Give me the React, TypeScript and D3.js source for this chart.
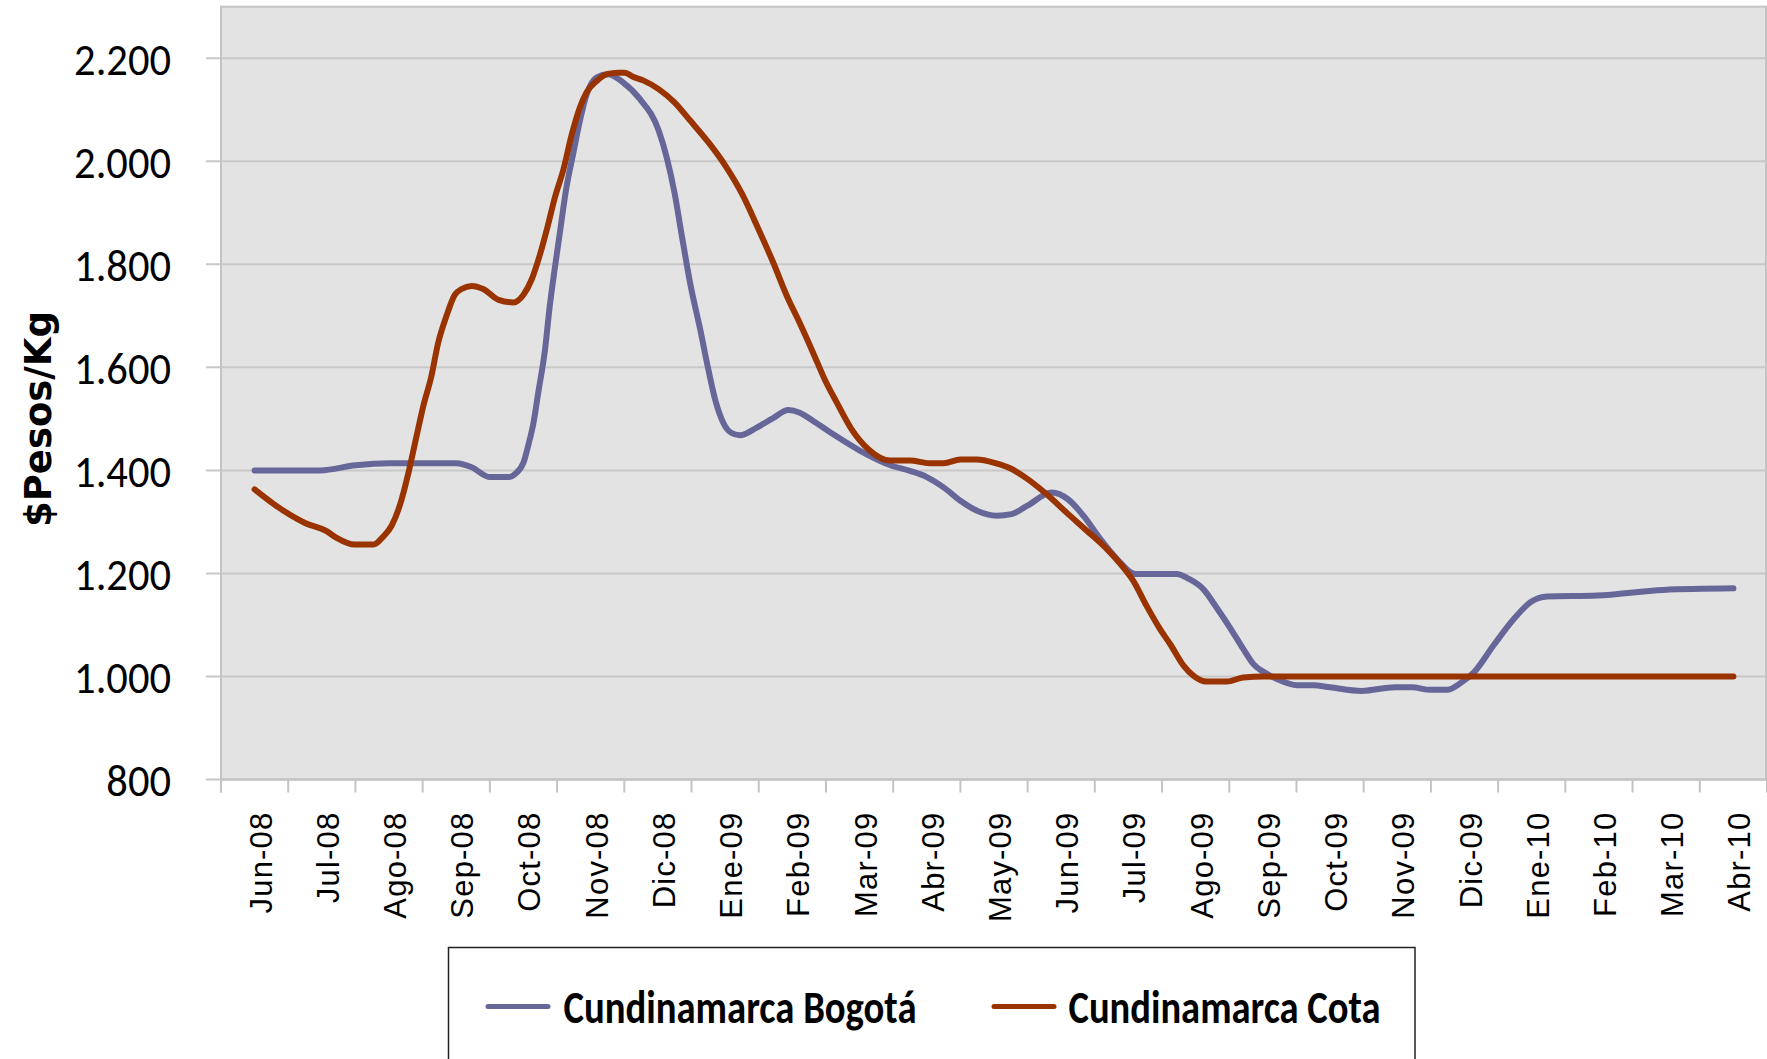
import React, { useEffect } from "react";
import * as d3 from "d3";

const months = ["Jun-08","Jul-08","Ago-08","Sep-08","Oct-08","Nov-08","Dic-08","Ene-09","Feb-09","Mar-09","Abr-09","May-09","Jun-09","Jul-09","Ago-09","Sep-09","Oct-09","Nov-09","Dic-09","Ene-10","Feb-10","Mar-10","Abr-10"];

const yTicks = [800, 1000, 1200, 1400, 1600, 1800, 2000, 2200];
const yTickLabels = ["800", "1.000", "1.200", "1.400", "1.600", "1.800", "2.000", "2.200"];

// position along the month axis (0 = Jun-08) and price
const bogotaX = [0,0.98,1.5,2.0,3.0,3.23,3.5,3.77,3.9,4.0,4.07,4.15,4.22,4.32,4.39,4.47,4.54,4.64,4.74,4.84,4.94,5.09,5.26,5.48,5.73,6.01,6.13,6.25,6.35,6.48,6.63,6.75,6.85,6.97,7.09,7.22,7.47,7.72,7.94,8.11,8.31,8.61,9.01,9.46,9.75,10.0,10.25,10.5,10.74,11.04,11.26,11.49,11.86,12.10,12.33,12.58,12.83,13.10,13.72,13.89,14.11,14.31,14.51,14.71,14.86,15.06,15.26,15.5,15.75,16.0,16.47,16.97,17.22,17.49,17.74,17.96,18.14,18.43,18.73,18.98,19.23,19.97,20.96,22.0];
const bogotaY = [1400,1400,1410,1414,1414,1406,1387,1387,1396,1415,1448,1493,1551,1634,1718,1796,1860,1950,2015,2079,2130,2163,2169,2153,2121,2060,2008,1937,1860,1763,1673,1596,1538,1493,1473,1468,1483,1502,1517,1512,1496,1470,1438,1410,1399,1387,1367,1341,1322,1312,1315,1331,1357,1344,1312,1267,1228,1199,1199,1190,1170,1134,1095,1053,1024,1005,992,983,983,979,972,979,979,974,974,989,1008,1060,1111,1144,1155,1157,1168,1171];

const cotaX = [0,0.28,0.75,1.07,1.22,1.49,1.77,1.91,2.04,2.16,2.29,2.41,2.51,2.63,2.73,2.86,2.98,3.08,3.23,3.40,3.63,3.85,4.00,4.12,4.25,4.37,4.47,4.59,4.72,4.84,4.94,5.09,5.24,5.41,5.51,5.63,5.78,6.01,6.25,6.48,6.75,7.00,7.25,7.49,7.72,7.91,8.11,8.31,8.48,8.66,8.88,9.13,9.46,9.75,10.04,10.25,10.5,10.74,11.02,11.24,11.49,11.78,12.08,12.38,12.68,12.92,13.07,13.27,13.47,13.62,13.82,13.97,14.16,14.46,14.71,15.01,16,17,18,19,20,21,22];
const cotaY = [1363,1335,1298,1282,1269,1256,1256,1271,1293,1332,1396,1467,1525,1583,1647,1702,1741,1752,1758,1752,1731,1726,1741,1770,1821,1879,1931,1982,2053,2105,2134,2156,2169,2172,2172,2164,2157,2140,2114,2079,2037,1992,1937,1870,1802,1741,1686,1628,1577,1532,1480,1441,1419,1419,1414,1414,1421,1421,1414,1404,1384,1354,1318,1283,1247,1212,1186,1137,1092,1063,1021,1001,990,990,998,1000,1000,1000,1000,1000,1000,1000,1000];

const seriesNames = ["Cundinamarca Bogotá", "Cundinamarca Cota"];
const seriesColors = ["#666699", "#993300"];
const yTitle = "$Pesos/Kg";

const W = 1767, H = 1059;
const PL = 221, PR = 1767, PT = 6.7, PB = 779.5;

export default function App() {
  useEffect(() => {
    document.body.style.margin = "0";
    document.body.style.overflow = "hidden";
  }, []);

  const x = d3.scaleLinear().domain([-0.5, months.length - 0.5]).range([PL, PR]);
  const y = d3.scaleLinear().domain([800, 2300]).range([PB, PT]);
  const line = d3.line<[number, number]>().x(d => x(d[0])).y(d => y(d[1])).curve(d3.curveMonotoneX);

  const bog: [number, number][] = bogotaX.map((v, i) => [v, bogotaY[i]]);
  const cot: [number, number][] = cotaX.map((v, i) => [v, cotaY[i]]);

  const numFont = "Carlito, 'Liberation Sans Narrow', 'Liberation Sans', Arial, sans-serif";
  const labelLen = (s: string) => {
    let n = 0;
    for (const c of s) n += c === "." ? 0.252 : 0.507;
    return n * 42.5;
  };

  return (
    <div style={{ position: "absolute", left: 0, top: 0, width: W, height: H, overflow: "hidden", background: "#fff" }}>
      <svg width={W} height={H} style={{ display: "block" }}>
        <rect x={PL} y={PT} width={PR - PL - 1} height={PB - PT} fill="#e3e3e3" stroke="#c4c4c4" strokeWidth={2} />
        {yTicks.map((t, i) => (
          <g key={t}>
            <line x1={206} x2={PR - 1} y1={y(t)} y2={y(t)} stroke="#c8c8c8" strokeWidth={2} />
            <text x={171} y={y(t)} dy="0.37em" textAnchor="end" fontFamily={numFont} fontSize={45}
              textLength={labelLen(yTickLabels[i])} lengthAdjust="spacingAndGlyphs" fill="#000">{yTickLabels[i]}</text>
          </g>
        ))}
        <line x1={PL} x2={PL} y1={PT} y2={PB + 13} stroke="#c4c4c4" strokeWidth={2} />
        <line x1={PL} x2={PR} y1={PB} y2={PB} stroke="#c4c4c4" strokeWidth={2} />
        {d3.range(months.length + 1).map(k => (
          <line key={k} x1={x(k - 0.5)} x2={x(k - 0.5)} y1={PB} y2={PB + 13} stroke="#c4c4c4" strokeWidth={2} />
        ))}
        {months.map((m, i) => (
          <text key={m} transform={`translate(${x(i) + 17},${811.5}) rotate(-90)`} textAnchor="end"
            fontFamily="'Liberation Sans', Arial, sans-serif" fontSize={31} letterSpacing={1.2} fill="#000">{m}</text>
        ))}
        <text transform={`translate(51,${419}) rotate(-90)`} textAnchor="middle" fontFamily="'DejaVu Sans', Verdana, sans-serif"
          fontWeight="bold" fontSize={38} textLength={216} lengthAdjust="spacingAndGlyphs" fill="#000">{yTitle}</text>
        <path d={line(bog) || ""} fill="none" stroke={seriesColors[0]} strokeWidth={6} strokeLinejoin="round" strokeLinecap="round" />
        <path d={line(cot) || ""} fill="none" stroke={seriesColors[1]} strokeWidth={6} strokeLinejoin="round" strokeLinecap="round" />
        <rect x={448.5} y={947.5} width={966.5} height={200} fill="#fff" stroke="#222" strokeWidth={1.5} />
        {[
          { lx: 488, tx: 563.5, len: 353 },
          { lx: 994, tx: 1068.5, len: 312 },
        ].map((it, i) => (
          <g key={i}>
            <line x1={it.lx} x2={it.lx + 60} y1={1006.5} y2={1006.5} stroke={seriesColors[i]} strokeWidth={5} strokeLinecap="round" />
            <text x={it.tx} y={1023} fontFamily={numFont} fontWeight="bold" fontSize={47}
              textLength={it.len} lengthAdjust="spacingAndGlyphs" fill="#000">{seriesNames[i]}</text>
          </g>
        ))}
      </svg>
    </div>
  );
}
